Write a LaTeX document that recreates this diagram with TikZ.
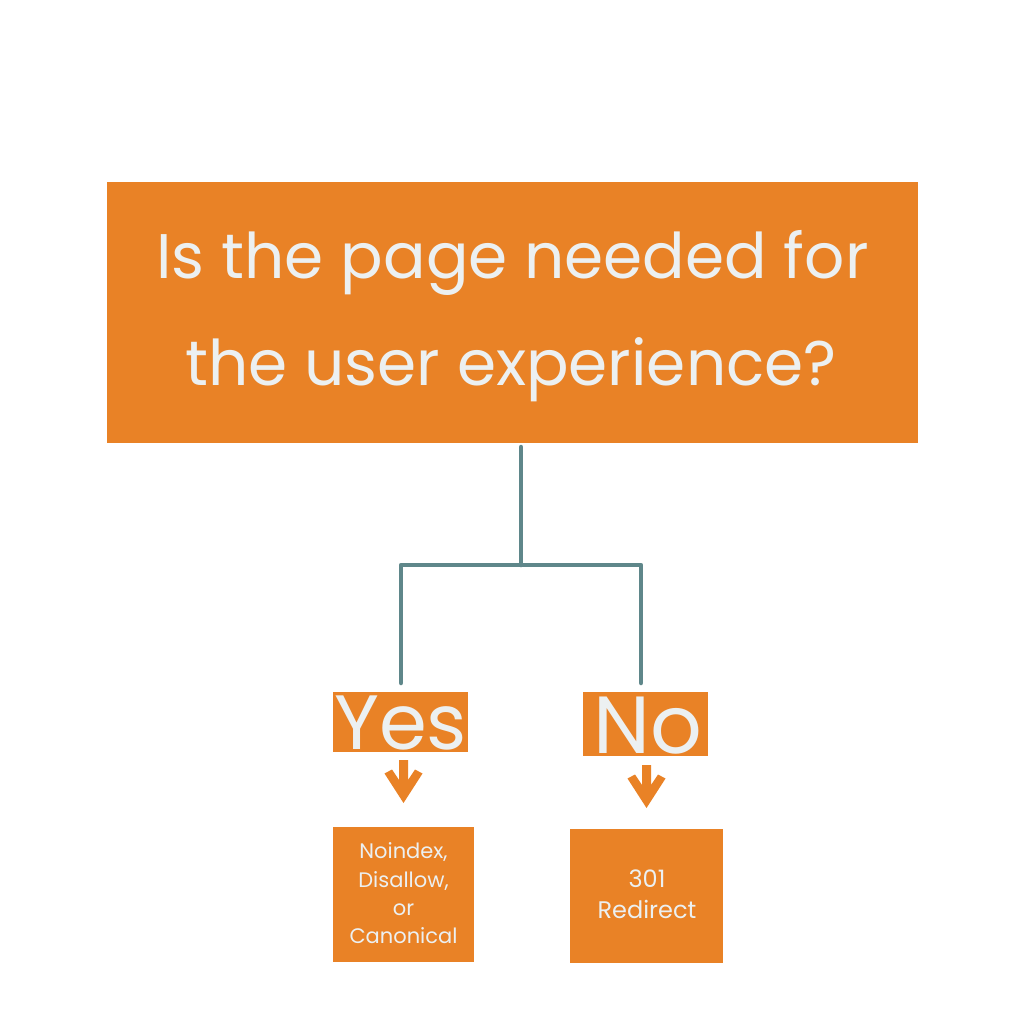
\documentclass[tikz,border=0pt]{standalone}
\usepackage{fontspec}
\setmainfont{Poppins}
\usetikzlibrary{calc}
\definecolor{orng}{HTML}{E98226}
\definecolor{pale}{HTML}{ECF0F1}
\definecolor{linec}{HTML}{5F878A}
\begin{document}
\begin{tikzpicture}[x=1pt,y=-1pt,
  box/.style={fill=orng, draw=none, inner sep=0pt, outer sep=0pt, anchor=north west},
  txt/.style={text=pale, inner sep=0pt, anchor=base},
  conn/.style={draw=linec, line width=4.5pt, line cap=round, line join=round},
  darrow/.pic={\fill[orng] (-4.5,0) -- (4.5,0) -- (4.5,20) -- (11.5,9.5) -- (19,13.5) -- (0,43) -- (-19,13.5) -- (-11.5,9.5) -- (-4.5,20) -- cycle;}]
\useasboundingbox[fill=white] (0,0) rectangle (1024,1024);
% question box
\node[box, minimum width=811pt, minimum height=261pt] (q) at (107,182) {};
\node[txt, font=\fontsize{63}{63}\selectfont] (q1) at (512.5,278) {Is the page needed for};
\node[txt, font=\fontsize{63}{63}\selectfont] (q2) at (511,385) {the user experience?};
% answers
\node[box, minimum width=135pt, minimum height=60pt] (yes) at (333,692) {};
\node[txt, font=\fontsize{77}{77}\selectfont] (yest) at (400.5,749) {Yes};
\node[box, minimum width=125pt, minimum height=64pt] (no) at (583,692) {};
\node[txt, font=\fontsize{81}{81}\selectfont] (not) at (648,753) {No};
% connectors
\coordinate (j) at (521,565);
\coordinate (ly) at (401,683);
\coordinate (ry) at (641,683);
\draw[conn, shorten <=4pt] (j |- q.south) -- (j);
\draw[conn] (ly) |- (j) -| (ry);
% arrows
\pic (a1) at (403.5,760) {darrow};
\pic (a2) at (646.5,765) {darrow};
% actions
\node[box, minimum width=141pt, minimum height=135pt] (act1) at (333,827) {};
\node[txt, font=\fontsize{21}{21}\selectfont] (t11) at (403.5,858) {Noindex,};
\node[txt, font=\fontsize{21}{21}\selectfont] (t12) at (403.5,887) {Disallow,};
\node[txt, font=\fontsize{21}{21}\selectfont] (t13) at (403.5,915) {or};
\node[txt, font=\fontsize{21}{21}\selectfont] (t14) at (403.5,943) {Canonical};
\node[box, minimum width=153pt, minimum height=134pt] (act2) at (570,829) {};
\node[txt, font=\fontsize{24}{24}\selectfont] (t21) at (647,887) {301};
\node[txt, font=\fontsize{24}{24}\selectfont] (t22) at (647,918) {Redirect};
\end{tikzpicture}
\end{document}
